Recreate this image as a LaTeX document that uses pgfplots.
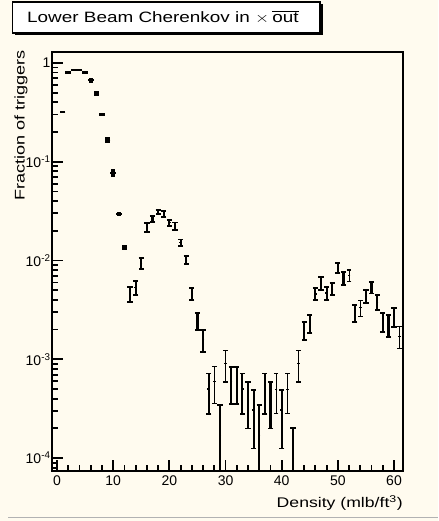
\documentclass[border=0pt]{standalone}
\usepackage{pgfplots}
\pgfplotsset{compat=1.18}
\usepackage{pgfplotstable}
\usepackage{fontspec}
\setmainfont{Liberation Sans}
\definecolor{bgc}{HTML}{FFFBEF}

\pgfplotstableread{
x y ep em
1 0.32 0.006 0.006
2 0.80 0.02 0.02
3 0.85 0.02 0.02
4 0.85 0.02 0.02
5 0.80 0.02 0.02
6 0.67 0.04 0.04
7 0.49 0.03 0.03
8 0.30 0.008 0.008
9 0.166 0.012 0.012
10 0.077 0.0065 0.0065
11 0.0295 0.0015 0.0015
12 0.0137 0.0008 0.0008
}\tabEarly

\pgfplotstableread{
x y ep em
13 0.00462 0.0008 0.0008
14 0.00533 0.00086 0.00086
15 0.0094 0.0012 0.0012
16 0.0218 0.0023 0.0023
17 0.02645 0.00175 0.00175
18 0.0308 0.0015 0.0015
19 0.0297 0.002 0.002
20 0.02415 0.00165 0.00165
21 0.02235 0.00195 0.00195
22 0.01515 0.00115 0.00115
23 0.01015 0.00095 0.00095
24 0.00465 0.00065 0.00065
25 0.00246 0.00049 0.00049
26 0.00158 0.00039 0.00039
27 0.0005 0.000218 0.000218
29 0.000172 0.000172 0.000171
31 0.000597 0.000241 0.000241
32 0.000597 0.000241 0.000241
33 0.0005 0.000218 0.000218
34 0.000395 0.000196 0.000196
35 0.000306 0.000181 0.000181
36 0.000172 0.000172 0.000171
37 0.0005 0.000218 0.000218
38 0.000395 0.000196 0.000196
40 0.000306 0.000181 0.000181
42 0.0001 0.0001 0.0000999
44 0.00198 0.00042 0.00042
45 0.00232 0.00048 0.00048
46 0.00461 0.00064 0.00064
47 0.00593 0.00092 0.00092
48 0.0047 0.00073 0.00073
49 0.00518 0.00072 0.00072
50 0.00843 0.00098 0.00098
51 0.00666 0.00102 0.00102
53 0.00296 0.00057 0.00057
55 0.00436 0.00066 0.00066
56 0.00536 0.00072 0.00072
57 0.0038 0.00066 0.00066
58 0.00242 0.00052 0.00052
59 0.00225 0.00056 0.00056
60 0.00272 0.00059 0.00059
}\tabBold

\pgfplotstableread{
x y ep em
28 0.000597 0.000241 0.000241
30 0.000913 0.000323 0.000323
39 0.0005 0.000218 0.000218
41 0.0005 0.000218 0.000218
43 0.000913 0.000323 0.000323
52 0.00704 0.00096 0.00096
54 0.00333 0.00064 0.00064
61 0.00171 0.00042 0.00042
}\tabLight

\begin{document}
\begin{tikzpicture}[x=1pt,y=1pt]
\fill[bgc] (0,0) rectangle (438,521);
\draw[black!30, line width=1pt] (8,3.5) -- (438,3.5);
% title box
\fill[black] (14.5,486) rectangle (322.5,517);
\filldraw[fill=white, draw=black, line width=1.5pt] (12.5,488) rectangle (320,519);
\node[anchor=west, inner sep=0pt] at (27,503.5) {\scalebox{1.26}[1]{\fontsize{15}{15}\selectfont Lower Beam Cherenkov in $\times$\,$\overline{\mbox{out}}$}};
% axis labels
\node[rotate=90, anchor=east, inner sep=0pt] at (21,471) {\scalebox{1.29}[1]{\fontsize{14}{14}\selectfont Fraction of triggers}};
\node[anchor=east, inner sep=0pt] at (403,18) {\scalebox{1.26}[1]{\fontsize{14}{14}\selectfont Density (mlb/ft\textsuperscript{3})}};

\begin{axis}[
  name=ax,
  at={(52pt,50pt)}, anchor=south west,
  width=351pt, height=419pt, scale only axis,
  ymode=log,
  xmin=-0.9, xmax=61.6, ymin=7.4e-5, ymax=1.29,
  axis line style={line width=2.6pt, black},
  tick style={line width=1.8pt, black},
  tick align=inside,
  xtick pos=bottom, ytick pos=left,
  xtick={0,10,20,30,40,50,60},
  xticklabels={0,10,20,30,40,50,60},
  minor x tick num=4,
  ytick={1e-4,1e-3,1e-2,1e-1,1},
  yticklabels={10\textsuperscript{-4},10\textsuperscript{-3},10\textsuperscript{-2},10\textsuperscript{-1},1},
  minor ytick={8e-5,9e-5,2e-4,3e-4,4e-4,5e-4,6e-4,7e-4,8e-4,9e-4,2e-3,3e-3,4e-3,5e-3,6e-3,7e-3,8e-3,9e-3,2e-2,3e-2,4e-2,5e-2,6e-2,7e-2,8e-2,9e-2,0.2,0.3,0.4,0.5,0.6,0.7,0.8,0.9},
  major tick length=11pt, minor tick length=6pt,
  xticklabel style={font=\fontsize{14}{14}\selectfont, yshift=-1pt},
  yticklabel style={font=\fontsize{14}{14}\selectfont, xshift=2pt},
]
\addplot[black, only marks, mark=-, mark size=2.8pt, mark options={line width=2.4pt},
  error bars/.cd, y dir=both, y explicit,
  error bar style={line width=4.5pt},
  error mark=none]
  table[x=x, y=y, y error plus=ep, y error minus=em]{\tabEarly};
\addplot[black, only marks, mark=-, mark size=1.2pt, mark options={line width=1.6pt},
  error bars/.cd, y dir=both, y explicit,
  error bar style={line width=2.2pt},
  error mark options={line width=1.8pt, mark size=2.6pt, rotate=90}]
  table[x=x, y=y, y error plus=ep, y error minus=em]{\tabBold};
\addplot[black, only marks, mark=-, mark size=1.2pt, mark options={line width=1pt},
  error bars/.cd, y dir=both, y explicit,
  error bar style={line width=1.1pt},
  error mark options={line width=1.2pt, mark size=2.2pt, rotate=90}]
  table[x=x, y=y, y error plus=ep, y error minus=em]{\tabLight};
\end{axis}
\draw[black, line width=2.6pt] (ax.south west) rectangle (ax.north east);
\end{tikzpicture}
\end{document}
